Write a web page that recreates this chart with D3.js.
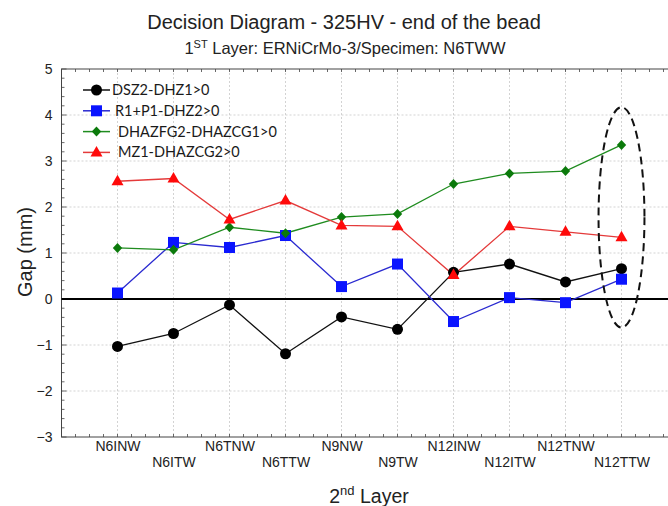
<!DOCTYPE html>
<html>
<head>
<meta charset="utf-8">
<script src="https://cdn.jsdelivr.net/npm/d3@7"></script>
<style>
  html, body { margin: 0; padding: 0; background: #fff; }
  svg { display: block; }
</style>
</head>
<body>
<svg id="chart" width="668" height="506"></svg>
<script>
// Specimens of the second layer
const categories = ["N6INW", "N6ITW", "N6TNW", "N6TTW", "N9NW", "N9TW", "N12INW", "N12ITW", "N12TNW", "N12TTW"];

// Gap values (mm) for each decision criterion
const dsz2Dhz1      = [-1.03, -0.75, -0.13, -1.19, -0.39, -0.66, 0.58, 0.76, 0.37, 0.66];
const r1p1Dhz2      = [0.13, 1.23, 1.12, 1.38, 0.27, 0.76, -0.49, 0.03, -0.08, 0.43];
const dhazfg2Dhazcg1 = [1.11, 1.07, 1.56, 1.43, 1.78, 1.85, 2.50, 2.73, 2.78, 3.35];
const mz1Dhazcg2    = [2.56, 2.62, 1.73, 2.14, 1.60, 1.58, 0.52, 1.58, 1.46, 1.34];

const seriesNames = ["DSZ2-DHZ1>0", "R1+P1-DHZ2>0", "DHAZFG2-DHAZCG1>0", "MZ1-DHAZCG2>0"];
const yTicks = [-3, -2, -1, 0, 1, 2, 3, 4, 5];

// Highlighted region around the last specimen (value range)
const highlightRange = [-0.62, 4.17];

(function draw() {
const svg = d3.select("#chart");
const left = 61.5, right = 677.5, plotTop = 69, plotBottom = 437;

const x = d3.scalePoint().domain(categories).range([left, right]).padding(1);
const y = d3.scaleLinear().domain([-3, 5]).range([plotBottom, plotTop]);
const step = x.step();

const styles = [
  { data: dsz2Dhz1, line: "#111", fill: "#000", marker: "circle" },
  { data: r1p1Dhz2, line: "#2a2ad0", fill: "#0a14ff", marker: "square" },
  { data: dhazfg2Dhazcg1, line: "#1f8c1f", fill: "#0b7a0b", marker: "diamond" },
  { data: mz1Dhazcg2, line: "#e43a3a", fill: "#ff0a0a", marker: "triangle" }
];

// Grid lines
const grid = svg.append("g").attr("stroke", "#c8c8c8").attr("stroke-width", 0.8).attr("stroke-dasharray", "2,2");
grid.selectAll("line.v").data(categories).join("line")
  .attr("x1", d => x(d)).attr("x2", d => x(d)).attr("y1", plotTop).attr("y2", plotBottom);
grid.selectAll("line.h").data(yTicks.filter(t => t !== 0 && t !== 5 && t !== -3)).join("line")
  .attr("x1", left).attr("x2", right).attr("y1", d => y(d)).attr("y2", d => y(d));

// Frame
svg.append("rect").attr("x", left).attr("y", plotTop).attr("width", right - left).attr("height", plotBottom - plotTop)
  .attr("fill", "none").attr("stroke", "#444").attr("stroke-width", 1);

// Minor ticks on the y axis (inward)
const yMinor = d3.range(-3, 5.0001, 0.2);
svg.append("g").selectAll("line").data(yMinor).join("line")
  .attr("x1", left).attr("x2", d => left + (Math.abs(d - Math.round(d)) < 1e-6 ? 5 : 3))
  .attr("y1", d => y(d)).attr("y2", d => y(d))
  .attr("stroke", "#444").attr("stroke-width", 0.8);

// Minor ticks on the x axis (bottom and top, inward)
const xMinor = d3.range(0, 12 * 4 + 1).map(i => left + i * step / 4).filter(v => v < right);
const xt = svg.append("g").attr("stroke", "#444").attr("stroke-width", 0.8);
xt.selectAll("line.b").data(xMinor).join("line")
  .attr("x1", d => d).attr("x2", d => d).attr("y1", plotBottom).attr("y2", plotBottom - 3);
xt.selectAll("line.t").data(xMinor).join("line")
  .attr("x1", d => d).attr("x2", d => d).attr("y1", plotTop).attr("y2", plotTop + 3);

// Y axis labels
const yAxis = d3.axisLeft(y).tickValues(yTicks).tickSize(0).tickPadding(9).tickFormat(d3.format("d"));
const gy = svg.append("g").attr("transform", `translate(${left},0)`).call(yAxis);
gy.select(".domain").remove();
gy.selectAll("text").attr("font-family", "Liberation Sans, Arial, sans-serif").attr("font-size", 14).attr("fill", "#222");

// X axis labels, alternating rows
const xAxis = d3.axisBottom(x).tickSize(0).tickPadding(0);
const gx = svg.append("g").attr("transform", `translate(0,${plotBottom})`).call(xAxis);
gx.select(".domain").remove();
gx.selectAll("text")
  .attr("font-family", "Liberation Sans, Arial, sans-serif").attr("font-size", 14).attr("fill", "#222")
  .attr("dy", null)
  .attr("y", (d, i) => i % 2 === 0 ? 14 : 30);

// Zero line
svg.append("line").attr("x1", left).attr("x2", right).attr("y1", y(0)).attr("y2", y(0))
  .attr("stroke", "#000").attr("stroke-width", 2);

// Marker drawing
function drawMarker(g, type, cx, cy, fill) {
  if (type === "circle") {
    g.append("circle").attr("cx", cx).attr("cy", cy).attr("r", 5.5).attr("fill", fill);
  } else if (type === "square") {
    g.append("rect").attr("x", cx - 5.5).attr("y", cy - 5.5).attr("width", 11).attr("height", 11).attr("fill", fill);
  } else if (type === "diamond") {
    g.append("path").attr("d", `M${cx},${cy - 5}L${cx + 4.7},${cy}L${cx},${cy + 5}L${cx - 4.7},${cy}Z`).attr("fill", fill);
  } else {
    g.append("path").attr("d", `M${cx},${cy - 6.5}L${cx + 6},${cy + 4}L${cx - 6},${cy + 4}Z`).attr("fill", fill);
  }
}

const line = d3.line().x((d, i) => x(categories[i])).y(d => y(d));
styles.forEach(s => {
  svg.append("path").attr("d", line(s.data)).attr("fill", "none").attr("stroke", s.line).attr("stroke-width", 1.3);
});
styles.forEach(s => {
  const g = svg.append("g");
  s.data.forEach((v, i) => drawMarker(g, s.marker, x(categories[i]), y(v), s.fill));
});

// Dashed ellipse around the last specimen
const last = categories[categories.length - 1];
svg.append("ellipse")
  .attr("cx", x(last))
  .attr("cy", (y(highlightRange[0]) + y(highlightRange[1])) / 2)
  .attr("rx", step * 0.41)
  .attr("ry", (y(highlightRange[0]) - y(highlightRange[1])) / 2)
  .attr("fill", "none").attr("stroke", "#111").attr("stroke-width", 2).attr("stroke-dasharray", "8,5");

// Legend
const legend = svg.append("g");
seriesNames.forEach((name, i) => {
  const ly = 90 + i * 20.8;
  const s = styles[i];
  legend.append("line").attr("x1", 83).attr("x2", 110).attr("y1", ly).attr("y2", ly)
    .attr("stroke", s.line).attr("stroke-width", 1.5);
  drawMarker(legend, s.marker, 96.5, ly, s.fill);
  legend.append("text").attr("x", i === 0 ? 112 : (i === 1 ? 115 : 118)).attr("y", ly + 5)
    .attr("font-family", "Lato, sans-serif").attr("font-size", 14.5).attr("fill", "#1a1a1a").text(name);
});

// Titles
const font = "Liberation Sans, Arial, sans-serif";
svg.append("text").attr("x", 344).attr("y", 29).attr("text-anchor", "middle")
  .attr("font-family", font).attr("font-size", 20).attr("fill", "#222")
  .text("Decision Diagram - 325HV - end of the bead");

const sub = svg.append("text").attr("x", 345).attr("y", 54).attr("text-anchor", "middle")
  .attr("font-family", font).attr("font-size", 16.5).attr("fill", "#222");
sub.append("tspan").text("1");
sub.append("tspan").attr("font-size", 11).attr("dy", -6).text("ST");
sub.append("tspan").attr("dy", 6).text(" Layer: ERNiCrMo-3/Specimen: N6TWW");

const xl = svg.append("text").attr("x", 369).attr("y", 503).attr("text-anchor", "middle")
  .attr("font-family", font).attr("font-size", 19.5).attr("fill", "#222");
xl.append("tspan").text("2");
xl.append("tspan").attr("font-size", 13).attr("dy", -8).text("nd");
xl.append("tspan").attr("dy", 8).text(" Layer");

svg.append("text").attr("transform", "translate(32,252) rotate(-90)").attr("text-anchor", "middle")
  .attr("font-family", font).attr("font-size", 20).attr("fill", "#222")
  .text("Gap (mm)");
})();
</script>
</body>
</html>
